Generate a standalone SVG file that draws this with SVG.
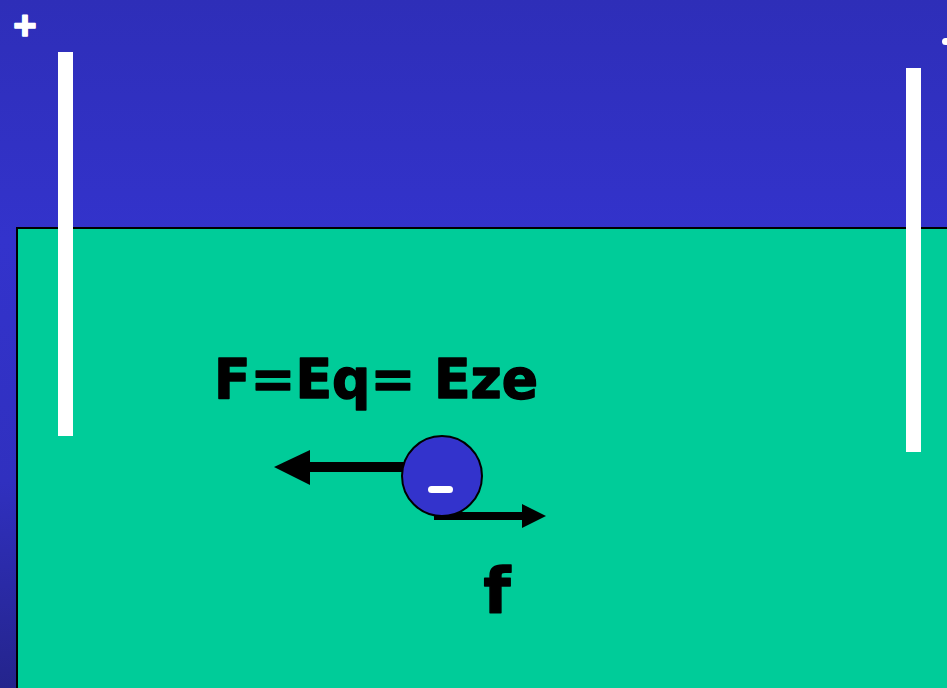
<svg xmlns="http://www.w3.org/2000/svg" width="947" height="688" viewBox="0 0 947 688">
<defs>
<linearGradient id="bg" x1="0" y1="0" x2="0" y2="1">
<stop offset="0" stop-color="#2E2EB8"/>
<stop offset="0.35" stop-color="#3333CC"/>
<stop offset="0.7" stop-color="#3030BF"/>
<stop offset="1" stop-color="#24248C"/>
</linearGradient>
<style>
.plate{fill:#FFFFFF}
.lbl{font-family:"DejaVu Sans","Liberation Sans",sans-serif;font-weight:bold;fill:#000000;stroke:#000000;stroke-width:1.5;stroke-linejoin:round}
.sign{font-family:"Liberation Sans",sans-serif;font-weight:bold;fill:#FFFFFF;stroke:#FFFFFF;stroke-width:1.5;stroke-linejoin:round}
.arr{fill:#000000}
</style>
</defs>
<rect x="0" y="0" width="947" height="688" fill="url(#bg)"/>
<g id="liquid">
<rect x="17" y="228" width="940" height="470" fill="#00CC99" stroke="#000000" stroke-width="2"/>
</g>
<g id="plate-positive">
<rect class="plate" x="58" y="52" width="15" height="384"/>
<text class="sign" x="25" y="39" font-size="40" text-anchor="middle">+</text>
</g>
<g id="plate-negative">
<rect class="plate" x="906" y="68" width="15" height="384"/>
<rect class="plate" x="942" y="38" width="12" height="7" rx="3.5"/>
</g>
<g id="formula">
<text class="lbl" x="214" y="398" font-size="56" textLength="324" lengthAdjust="spacingAndGlyphs">F=Eq= Eze</text>
</g>
<g id="connectors">
<rect class="arr" x="306" y="462" width="98" height="10"/>
<polygon class="arr" points="274,467 310,450 310,485"/>
<rect class="arr" x="434" y="512" width="92" height="8"/>
<polygon class="arr" points="546,516 522,504 522,528"/>
</g>
<g id="ion">
<circle cx="442" cy="476" r="40" fill="#3333CC" stroke="#000000" stroke-width="2"/>
<rect x="428" y="486" width="25" height="7" rx="3.5" fill="#FFFFFF"/>
</g>
<g id="friction-label">
<text class="lbl" x="497" y="612" font-size="62" text-anchor="middle">f</text>
</g>
</svg>
